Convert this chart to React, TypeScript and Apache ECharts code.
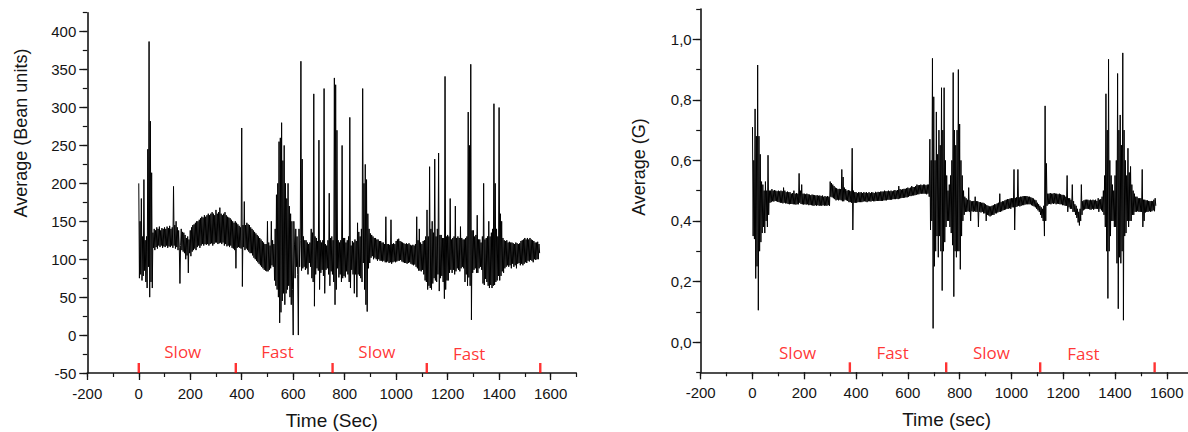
import React, { useEffect, useRef } from "react";
import * as echarts from "echarts";

// Sampling grid of both recordings (seconds)
const TIME_START = 0;
const TIME_STEP = 2.5;

// Left panel: Average (Bean units), one value every 2.5 s from 0 to 1557.5 s
const BEAN_VALUES = [
  200, 75, 150, 80, 180, 72, 130, 78, 205, 85, 125, 70, 130, 62, 245, 90, 387, 50, 282, 70,
  214, 62, 135, 115, 140, 112, 138, 116, 142, 114, 140, 118, 143, 116, 138, 118, 141, 115, 140, 117,
  142, 116, 140, 118, 143, 115, 141, 117, 144, 116, 140, 118, 142, 115, 196, 118, 145, 114, 150, 116,
  142, 112, 138, 115, 68, 118, 140, 112, 136, 110, 135, 108, 132, 100, 128, 105, 130, 82, 126, 108,
  138, 104, 142, 110, 145, 112, 146, 114, 148, 112, 150, 116, 150, 118, 152, 115, 154, 118, 156, 120,
  155, 118, 158, 120, 156, 119, 158, 120, 160, 118, 158, 120, 160, 121, 162, 118, 160, 120, 158, 122,
  165, 122, 160, 120, 162, 121, 168, 122, 160, 120, 158, 122, 160, 118, 162, 120, 158, 117, 156, 118,
  155, 116, 154, 118, 152, 115, 150, 114, 148, 112, 150, 88, 148, 115, 146, 116, 144, 115, 142, 114,
  273, 64, 145, 116, 176, 112, 145, 114, 148, 112, 146, 110, 145, 108, 142, 108, 140, 105, 138, 102,
  136, 100, 134, 98, 132, 96, 130, 94, 128, 92, 126, 90, 124, 88, 122, 86, 120, 85, 120, 84,
  150, 84, 122, 86, 118, 88, 150, 92, 125, 90, 120, 72, 140, 65, 185, 60, 200, 50, 255, 16,
  260, 30, 280, 45, 230, 55, 250, 40, 200, 55, 180, 60, 200, 65, 170, 50, 160, 40, 150, 60,
  0, 150, 120, 75, 140, 90, 130, 80, 0, 140, 90, 125, 361, 85, 232, 88, 130, 90, 125, 86,
  125, 88, 122, 80, 120, 95, 122, 90, 140, 75, 135, 70, 318, 38, 130, 80, 128, 88, 124, 85,
  257, 60, 125, 82, 122, 86, 125, 78, 325, 55, 120, 86, 118, 88, 125, 80, 187, 65, 128, 84,
  130, 80, 125, 70, 339, 40, 330, 60, 270, 88, 125, 76, 122, 80, 125, 70, 250, 75, 128, 78,
  128, 76, 122, 84, 125, 80, 130, 70, 287, 62, 118, 86, 124, 80, 122, 55, 126, 80, 124, 50,
  148, 80, 136, 78, 130, 75, 140, 70, 325, 95, 200, 60, 225, 40, 205, 31, 160, 88, 140, 95,
  134, 102, 132, 104, 130, 100, 128, 102, 128, 100, 126, 98, 126, 100, 124, 98, 124, 98, 122, 97,
  122, 98, 120, 96, 156, 96, 120, 97, 120, 95, 119, 96, 152, 94, 120, 96, 121, 97, 120, 96,
  124, 97, 126, 98, 127, 98, 124, 99, 123, 97, 122, 96, 121, 95, 120, 95, 121, 94, 120, 95,
  121, 96, 119, 94, 118, 93, 119, 92, 118, 93, 120, 90, 156, 88, 125, 85, 140, 85, 122, 84,
  120, 86, 124, 80, 125, 72, 130, 70, 165, 60, 130, 65, 222, 62, 140, 60, 150, 68, 135, 75,
  232, 72, 130, 70, 140, 80, 240, 58, 132, 75, 132, 78, 128, 70, 128, 48, 341, 60, 130, 72,
  132, 72, 130, 82, 180, 86, 126, 82, 128, 86, 130, 80, 170, 84, 128, 88, 130, 86, 128, 84,
  143, 88, 128, 90, 126, 88, 126, 70, 128, 80, 130, 65, 294, 76, 250, 65, 357, 20, 138, 82,
  138, 86, 130, 88, 132, 82, 158, 82, 126, 88, 126, 90, 122, 86, 130, 68, 200, 66, 126, 74,
  128, 70, 130, 65, 150, 62, 130, 66, 135, 62, 140, 65, 305, 66, 200, 70, 140, 72, 130, 78,
  300, 72, 160, 78, 150, 84, 128, 82, 125, 88, 124, 90, 125, 92, 122, 90, 123, 92, 122, 88,
  122, 94, 121, 90, 120, 92, 122, 88, 121, 94, 120, 95, 121, 92, 124, 94, 125, 92, 126, 94,
  128, 96, 126, 95, 128, 98, 126, 97, 128, 99, 126, 98, 125, 96, 124, 100, 122, 99, 122, 100,
  123, 100, 120, 108,
];

// Right panel: Average (G), one value every 2.5 s from 0 to 1557.5 s
const G_VALUES = [
  0.71, 0.35, 0.6, 0.34, 0.77, 0.21, 0.68, 0.25, 0.915, 0.105, 0.68, 0.3, 0.62, 0.33, 0.53, 0.36, 0.52, 0.38, 0.5, 0.36,
  0.53, 0.4, 0.5, 0.38, 0.617, 0.42, 0.5, 0.46, 0.5, 0.462, 0.505, 0.465, 0.5, 0.464, 0.502, 0.466, 0.5, 0.465, 0.498, 0.463,
  0.5, 0.462, 0.498, 0.46, 0.5, 0.46, 0.498, 0.458, 0.51, 0.46, 0.5, 0.458, 0.495, 0.458, 0.497, 0.456, 0.495, 0.455, 0.495, 0.456,
  0.49, 0.456, 0.492, 0.455, 0.5, 0.455, 0.49, 0.454, 0.492, 0.455, 0.49, 0.455, 0.557, 0.46, 0.5, 0.456, 0.52, 0.455, 0.49, 0.454,
  0.49, 0.455, 0.488, 0.454, 0.49, 0.455, 0.488, 0.452, 0.487, 0.453, 0.485, 0.452, 0.487, 0.451, 0.486, 0.45, 0.485, 0.452, 0.484, 0.45,
  0.485, 0.452, 0.483, 0.45, 0.484, 0.451, 0.482, 0.45, 0.484, 0.452, 0.48, 0.45, 0.482, 0.451, 0.48, 0.45, 0.482, 0.452, 0.48, 0.45,
  0.53, 0.48, 0.525, 0.478, 0.52, 0.475, 0.515, 0.472, 0.51, 0.468, 0.508, 0.47, 0.505, 0.468, 0.506, 0.47, 0.505, 0.468, 0.57, 0.465,
  0.545, 0.465, 0.51, 0.47, 0.505, 0.468, 0.5, 0.466, 0.502, 0.462, 0.5, 0.462, 0.498, 0.46, 0.64, 0.37, 0.5, 0.46, 0.495, 0.46,
  0.495, 0.46, 0.492, 0.462, 0.495, 0.462, 0.494, 0.462, 0.495, 0.462, 0.492, 0.464, 0.495, 0.465, 0.493, 0.464, 0.495, 0.462, 0.492, 0.465,
  0.495, 0.465, 0.492, 0.464, 0.495, 0.466, 0.494, 0.465, 0.492, 0.465, 0.496, 0.466, 0.494, 0.466, 0.496, 0.466, 0.495, 0.466, 0.497, 0.466,
  0.497, 0.466, 0.497, 0.468, 0.5, 0.468, 0.498, 0.468, 0.498, 0.47, 0.5, 0.47, 0.498, 0.47, 0.5, 0.47, 0.498, 0.472, 0.5, 0.472,
  0.502, 0.472, 0.5, 0.473, 0.502, 0.472, 0.515, 0.474, 0.505, 0.475, 0.503, 0.476, 0.505, 0.476, 0.506, 0.477, 0.506, 0.478, 0.508, 0.478,
  0.51, 0.48, 0.508, 0.482, 0.51, 0.482, 0.515, 0.484, 0.512, 0.484, 0.512, 0.485, 0.515, 0.486, 0.52, 0.488, 0.518, 0.488, 0.518, 0.49,
  0.52, 0.49, 0.518, 0.49, 0.52, 0.49, 0.52, 0.49, 0.518, 0.488, 0.52, 0.49, 0.52, 0.48, 0.67, 0.37, 0.6, 0.4, 0.937, 0.045,
  0.81, 0.25, 0.6, 0.3, 0.76, 0.35, 0.62, 0.28, 0.7, 0.35, 0.65, 0.3, 0.84, 0.17, 0.7, 0.3, 0.84, 0.33, 0.6, 0.38,
  0.55, 0.4, 0.5, 0.4, 0.52, 0.38, 0.55, 0.36, 0.6, 0.32, 0.89, 0.15, 0.7, 0.3, 0.65, 0.28, 0.7, 0.3, 0.9, 0.3,
  0.72, 0.24, 0.6, 0.35, 0.55, 0.4, 0.5, 0.42, 0.48, 0.43, 0.475, 0.43, 0.47, 0.432, 0.51, 0.43, 0.468, 0.4, 0.465, 0.432,
  0.465, 0.43, 0.466, 0.432, 0.48, 0.43, 0.465, 0.43, 0.465, 0.38, 0.462, 0.43, 0.462, 0.428, 0.46, 0.43, 0.46, 0.425, 0.458, 0.425,
  0.455, 0.4, 0.452, 0.42, 0.45, 0.418, 0.448, 0.415, 0.448, 0.418, 0.45, 0.42, 0.452, 0.42, 0.455, 0.425, 0.455, 0.425, 0.458, 0.428,
  0.46, 0.43, 0.49, 0.43, 0.462, 0.432, 0.465, 0.435, 0.465, 0.436, 0.468, 0.438, 0.47, 0.44, 0.472, 0.44, 0.472, 0.442, 0.474, 0.44,
  0.475, 0.445, 0.475, 0.445, 0.57, 0.37, 0.476, 0.446, 0.478, 0.448, 0.57, 0.45, 0.478, 0.448, 0.48, 0.45, 0.48, 0.452, 0.482, 0.452,
  0.482, 0.454, 0.482, 0.455, 0.482, 0.455, 0.48, 0.455, 0.48, 0.455, 0.478, 0.452, 0.476, 0.45, 0.474, 0.448, 0.47, 0.445, 0.468, 0.44,
  0.46, 0.435, 0.455, 0.43, 0.45, 0.42, 0.445, 0.41, 0.44, 0.4, 0.45, 0.35, 0.78, 0.4, 0.59, 0.45, 0.49, 0.455, 0.49, 0.456,
  0.492, 0.455, 0.49, 0.458, 0.49, 0.456, 0.492, 0.458, 0.49, 0.455, 0.49, 0.457, 0.488, 0.456, 0.49, 0.455, 0.488, 0.455, 0.486, 0.452,
  0.486, 0.452, 0.484, 0.45, 0.48, 0.45, 0.55, 0.43, 0.475, 0.445, 0.475, 0.44, 0.47, 0.44, 0.52, 0.43, 0.465, 0.43, 0.455, 0.42,
  0.45, 0.41, 0.44, 0.395, 0.43, 0.385, 0.44, 0.4, 0.52, 0.42, 0.465, 0.435, 0.468, 0.438, 0.47, 0.44, 0.47, 0.44, 0.47, 0.44,
  0.468, 0.438, 0.47, 0.437, 0.468, 0.44, 0.47, 0.437, 0.468, 0.44, 0.47, 0.44, 0.466, 0.44, 0.475, 0.43, 0.47, 0.44, 0.472, 0.435,
  0.48, 0.43, 0.5, 0.42, 0.55, 0.38, 0.82, 0.3, 0.7, 0.144, 0.934, 0.3, 0.6, 0.35, 0.55, 0.4, 0.52, 0.4, 0.5, 0.38,
  0.55, 0.38, 0.6, 0.26, 0.887, 0.11, 0.7, 0.28, 0.75, 0.26, 0.65, 0.3, 0.955, 0.072, 0.7, 0.35, 0.6, 0.36, 0.55, 0.4,
  0.64, 0.38, 0.56, 0.4, 0.58, 0.4, 0.52, 0.42, 0.5, 0.42, 0.49, 0.43, 0.48, 0.43, 0.48, 0.432, 0.475, 0.43, 0.475, 0.43,
  0.475, 0.43, 0.57, 0.38, 0.47, 0.4, 0.47, 0.428, 0.468, 0.43, 0.468, 0.43, 0.466, 0.432, 0.465, 0.43, 0.466, 0.432, 0.465, 0.435,
  0.47, 0.432, 0.475, 0.45,
];

// Axis ticks
const X_MAJOR_TICKS = [-200, 0, 200, 400, 600, 800, 1000, 1200, 1400, 1600];
const BEAN_MAJOR_TICKS = [-50, 0, 50, 100, 150, 200, 250, 300, 350, 400];
const G_MAJOR_TICKS = [0, 0.2, 0.4, 0.6, 0.8, 1.0];

// Phase annotations
const PHASE_NAMES = ["Slow", "Fast", "Slow", "Fast"];
const BEAN_PHASE_CENTERS = [171, 539, 925, 1284];
const BEAN_PHASE_LEVELS = [-22, -22, -22, -24];
const BEAN_PHASE_BOUNDS = [0, 377, 753, 1119, 1560];
const G_PHASE_CENTERS = [174, 541, 923, 1278];
const G_PHASE_LEVELS = [-0.033, -0.033, -0.033, -0.037];
const G_PHASE_BOUNDS = [376, 748, 1111, 1553];

const FONT = '"Liberation Sans", Arial, Helvetica, sans-serif';
const RED_FONT = '"Open Sans", "Liberation Sans", sans-serif';
const INK = "#151515";
const RED = "#ff0000";

const toPairs = (vals: number[]) => vals.map((v, i) => [TIME_START + i * TIME_STEP, v]);

function xMajor(gridIndex: number, name: string) {
  return {
    type: "value",
    gridIndex,
    min: -200,
    max: 1700,
    interval: 100,
    position: "bottom",
    axisLine: { show: true, onZero: false, lineStyle: { color: INK, width: 1.6 } },
    axisTick: { show: true, length: 7, customValues: X_MAJOR_TICKS, lineStyle: { color: INK, width: 1.3 } },
    axisLabel: {
      show: true,
      margin: 13,
      customValues: X_MAJOR_TICKS,
      fontSize: 15,
      fontFamily: FONT,
      color: INK,
      formatter: (v: number) => String(v),
    },
    splitLine: { show: false },
    name,
    nameLocation: "middle",
    nameGap: 38,
    nameMoveOverlap: false,
    nameTextStyle: { fontSize: 19, fontFamily: FONT, color: INK },
  };
}
function xMinor(gridIndex: number) {
  return {
    type: "value",
    gridIndex,
    min: -200,
    max: 1700,
    interval: 100,
    position: "bottom",
    axisLine: { show: false, onZero: false },
    axisTick: { show: true, length: 4, lineStyle: { color: INK, width: 1.2 } },
    axisLabel: { show: false },
    splitLine: { show: false },
  };
}
function yMajor(gridIndex: number, min: number, max: number, interval: number, ticks: number[], margin: number, fmt: (v: number) => string) {
  return {
    type: "value",
    gridIndex,
    min,
    max,
    interval,
    position: "left",
    axisLine: { show: true, onZero: false, lineStyle: { color: INK, width: 1.6 } },
    axisTick: { show: true, length: 8, customValues: ticks, lineStyle: { color: INK, width: 1.3 } },
    axisLabel: { show: true, margin, customValues: ticks, fontSize: 15, fontFamily: FONT, color: INK, formatter: fmt },
    splitLine: { show: false },
  };
}
function yMinor(gridIndex: number, min: number, max: number, interval: number) {
  return {
    type: "value",
    gridIndex,
    min,
    max,
    interval,
    position: "left",
    axisLine: { show: false, onZero: false },
    axisTick: { show: true, length: 4.5, lineStyle: { color: INK, width: 1.2 } },
    axisLabel: { show: false },
    splitLine: { show: false },
  };
}

function phaseLabelSeries(xi: number, yi: number, centers: number[], levels: number[]) {
  return {
    type: "scatter",
    xAxisIndex: xi,
    yAxisIndex: yi,
    symbol: "circle",
    symbolSize: 1,
    itemStyle: { color: "transparent" },
    silent: true,
    label: {
      show: true,
      position: "inside",
      formatter: (p: any) => p.name,
      color: RED,
      fontSize: 17,
      fontFamily: RED_FONT,
    },
    data: centers.map((c, i) => ({ name: PHASE_NAMES[i], value: [c, levels[i]] })),
  };
}
function boundSeries(xi: number, yi: number, bounds: number[], base: number) {
  return {
    type: "scatter",
    xAxisIndex: xi,
    yAxisIndex: yi,
    symbol: "rect",
    symbolSize: [2.4, 10],
    symbolOffset: [0, -5],
    itemStyle: { color: RED },
    silent: true,
    data: bounds.map((b) => [b, base]),
  };
}

export default function App() {
  const ref = useRef<HTMLDivElement>(null);
  useEffect(() => {
    document.body.style.margin = "0";
    const chart = echarts.init(ref.current!, null, { renderer: "svg" });
    const gFmt = (v: number) => v.toFixed(1).replace(".", ",");
    const beanFmt = (v: number) => String(v);
    chart.setOption({
      animation: false,
      backgroundColor: "#ffffff",
      grid: [
        { left: 87.3, top: 12.7, width: 489, height: 360.3, containLabel: false, outerBoundsMode: "none" },
        { left: 700.7, top: 9, width: 492, height: 363.3, containLabel: false, outerBoundsMode: "none" },
      ],
      xAxis: [xMajor(0, "Time (Sec)"), xMinor(0), xMajor(1, "Time (sec)"), xMinor(1)],
      yAxis: [
        yMajor(0, -50, 425, 25, BEAN_MAJOR_TICKS, 11, beanFmt),
        yMinor(0, -50, 425, 25),
        yMajor(1, -0.1, 1.1, 0.1, G_MAJOR_TICKS, 9, gFmt),
        yMinor(1, -0.1, 1.1, 0.1),
      ],
      graphic: [
        {
          type: "text",
          x: 20.5,
          y: 133,
          rotation: Math.PI / 2,
          style: {
            text: "Average (Bean units)",
            font: `18px ${FONT}`,
            fill: INK,
            align: "center",
            verticalAlign: "middle",
            textAlign: "center",
            textVerticalAlign: "middle",
          },
        },
        {
          type: "text",
          x: 638.5,
          y: 167,
          rotation: Math.PI / 2,
          style: {
            text: "Average (G)",
            font: `18px ${FONT}`,
            fill: INK,
            align: "center",
            verticalAlign: "middle",
            textAlign: "center",
            textVerticalAlign: "middle",
          },
        },
      ],
      series: [
        {
          type: "line",
          xAxisIndex: 0,
          yAxisIndex: 0,
          data: toPairs(BEAN_VALUES),
          showSymbol: false,
          symbol: "none",
          lineStyle: { color: "#000", width: 1 },
          silent: true,
        },
        {
          type: "line",
          xAxisIndex: 2,
          yAxisIndex: 2,
          data: toPairs(G_VALUES),
          showSymbol: false,
          symbol: "none",
          lineStyle: { color: "#000", width: 1 },
          silent: true,
        },
        boundSeries(0, 0, BEAN_PHASE_BOUNDS, -50),
        boundSeries(2, 2, G_PHASE_BOUNDS, -0.1),
        phaseLabelSeries(0, 0, BEAN_PHASE_CENTERS, BEAN_PHASE_LEVELS),
        phaseLabelSeries(2, 2, G_PHASE_CENTERS, G_PHASE_LEVELS),
      ],
    });
    return () => chart.dispose();
  }, []);
  return <div ref={ref} style={{ width: 1188, height: 432 }} />;
}
